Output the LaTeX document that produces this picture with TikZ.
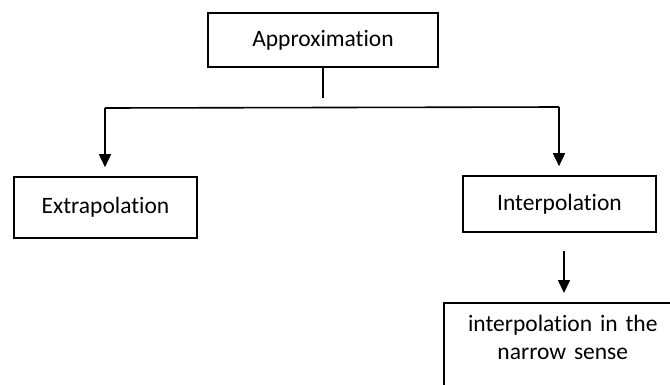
\documentclass[tikz,border=0pt]{standalone}
\usepackage{fontspec}
\setmainfont{Carlito}[Ligatures=NoCommon]
\usepackage{tikz}
\usetikzlibrary{arrows.meta,positioning,calc}
\usepackage{xcolor}

\begin{document}
\begin{tikzpicture}[
    x=1pt, y=-1pt,
    font=\fontsize{23.5}{28}\selectfont,
    box/.style={rectangle, draw=black, line width=1.6pt, align=center, inner sep=0pt},
    arr/.style={-{Triangle[width=12pt,length=13pt]}, line width=1.6pt},
    bus/.style={line width=1.6pt}
  ]
    \useasboundingbox (0,0) rectangle (670,384);
    \clip (0,0) rectangle (670,384);
    \node[box, minimum width=230pt, minimum height=54pt] (approx) at (323,40) {Approximation};
    \node[box, minimum width=183pt, minimum height=61pt] (extra) at (105.5,207.5) {Extrapolation};
    \node[box, minimum width=193pt, minimum height=56pt] (inter) at (559.5,204) {Interpolation};
    \node[box, anchor=north west, text width=238pt, inner ysep=12pt, text depth=90pt] (narrow) at (443,302) {interpolation in the\\narrow sense};
    \coordinate (stem) at (323,98);
    \coordinate (busL) at (105,108);
    \coordinate (busR) at (559,107);
    \draw[bus] (approx.south) -- (stem);
    \draw[bus] (busL) -- (busR);
    \draw[arr, shorten >=9pt] (busL) -- (extra.north -| busL);
    \draw[arr, shorten >=9pt] (busR) -- (inter.north -| busR);
    \draw[arr, shorten <=18pt, shorten >=9pt] ([xshift=4.5pt]inter.south) -- ([xshift=4.5pt]inter.south |- narrow.north);
  \end{tikzpicture}
\end{document}
